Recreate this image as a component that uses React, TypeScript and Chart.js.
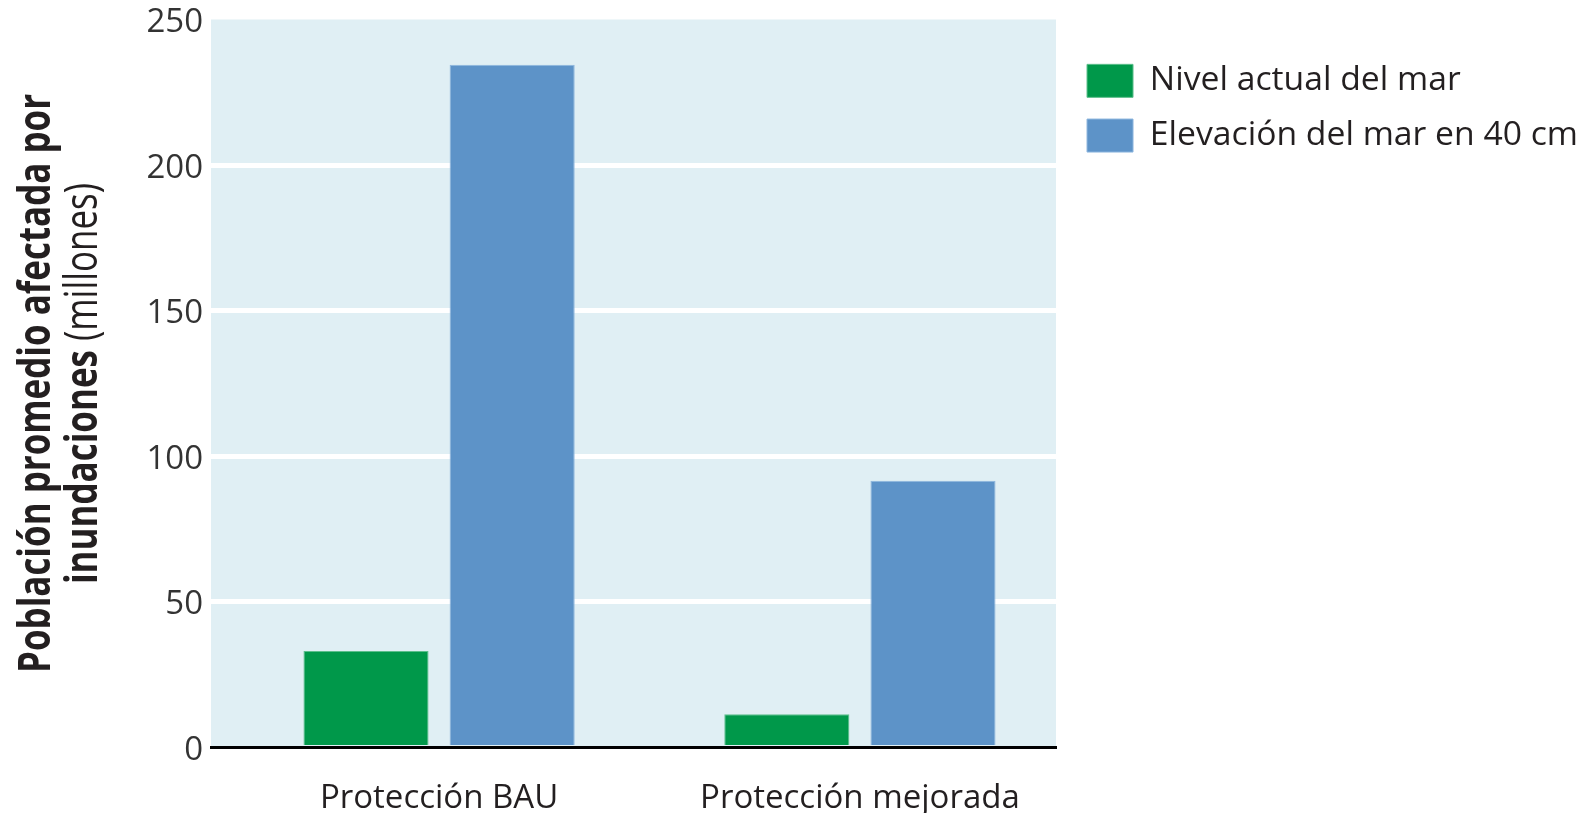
import React, { useEffect, useRef } from 'react';
import { Chart, registerables } from 'chart.js';

Chart.register(...registerables);

// ---- data ----
const categories = ['Protección BAU', 'Protección mejorada'];
const seriesLabels = ['Nivel actual del mar', 'Elevación del mar en 40 cm'];
const nivelActual = [33.1, 11.4];
const elevacion40 = [234.5, 91.6];
const yTickStep = 50;
const yMin = 0;
const yMax = 250;
const yTitleLine1 = 'Población promedio afectada por';
const yTitleLine2Bold = 'inundaciones';
const yTitleLine2Regular = ' (millones)';

// ---- styles ----
const COLORS = {
  green: '#00984a',
  greenBorder: '#5cbf8c',
  blue: '#5d93c8',
  blueBorder: '#8db6de',
  bg: '#e0eff4',
  text: '#231f20',
  tick: '#333333',
};

const bgPlugin = {
  id: 'plotBg',
  beforeDraw(chart: any) {
    const { ctx, chartArea: a } = chart;
    ctx.save();
    ctx.fillStyle = COLORS.bg;
    ctx.fillRect(a.left, a.top, a.right - a.left, a.bottom - a.top);
    ctx.restore();
  },
};

const yTitlePlugin = {
  id: 'yTitle',
  afterDraw(chart: any) {
    const { ctx, chartArea: a } = chart;
    const yc = (a.top + a.bottom) / 2;
    const size = 45;
    const boldFont = `bold ${size}px "Open Sans"`;
    const regFont = `${size}px "Open Sans"`;
    const targetWidth = 579;
    ctx.save();
    ctx.fillStyle = COLORS.text;
    ctx.font = boldFont;
    const w1 = ctx.measureText(yTitleLine1).width;
    const sx = targetWidth / w1;

    ctx.save();
    ctx.translate(50, yc);
    ctx.rotate(-Math.PI / 2);
    ctx.scale(sx, 1);
    ctx.textAlign = 'center';
    ctx.textBaseline = 'alphabetic';
    ctx.fillText(yTitleLine1, 0, 0);
    ctx.restore();

    ctx.font = boldFont;
    const wb = ctx.measureText(yTitleLine2Bold).width;
    ctx.font = regFont;
    const wr = ctx.measureText(yTitleLine2Regular).width;
    const total = wb + wr;
    ctx.save();
    ctx.translate(97, yc);
    ctx.rotate(-Math.PI / 2);
    ctx.scale(sx, 1);
    ctx.textAlign = 'left';
    ctx.textBaseline = 'alphabetic';
    ctx.font = boldFont;
    ctx.fillText(yTitleLine2Bold, -total / 2, 0);
    ctx.font = regFont;
    ctx.fillText(yTitleLine2Regular, -total / 2 + wb, 0);
    ctx.restore();

    ctx.restore();
  },
};

export default function App() {
  const ref = useRef<HTMLCanvasElement>(null);

  useEffect(() => {
    const canvas = ref.current;
    if (!canvas) return;
    const chart = new Chart(canvas, {
      type: 'bar',
      data: {
        datasets: [
          {
            label: seriesLabels[0],
            data: nivelActual.map((v, i) => ({ x: i, y: v })),
            backgroundColor: COLORS.green,
            borderColor: COLORS.greenBorder,
            borderWidth: 1,
            yAxisID: 'y',
            xAxisID: 'x',
          },
          {
            label: seriesLabels[1],
            data: elevacion40.map((v, i) => ({ x: i, y: v })),
            backgroundColor: COLORS.blue,
            borderColor: COLORS.blueBorder,
            borderWidth: 1,
            yAxisID: 'y',
            xAxisID: 'x',
          },
        ],
      },
      options: {
        responsive: false,
        animation: false,
        events: [],
        categoryPercentage: 0.6946,
        barPercentage: 0.856,
        layout: { padding: { top: 19.5, left: 0, right: 0, bottom: 0 } },
        scales: {
          x: {
            type: 'linear',
            offset: false,
            min: -0.542,
            max: 1.466,
            afterBuildTicks: (s: any) => {
              s.ticks = categories.map((_, i) => ({ value: i }));
            },
            afterFit: (s: any) => {
              s.height = 65.5;
            },
            grid: { display: false, offset: false },
            border: { display: true, color: '#000000', width: 3, z: 1 },
            ticks: {
              autoSkip: false,
              maxRotation: 0,
              padding: 23,
              color: COLORS.text,
              font: { family: '"Open Sans"', size: 33 },
              callback: (v: any) => categories[v] ?? '',
            },
          },
          y: {
            type: 'linear',
            position: 'left',
            min: yMin,
            max: yMax,
            afterFit: (s: any) => {
              s.width = 211;
            },
            grid: {
              color: (c: any) =>
                c.tick && (c.tick.value === yMin || c.tick.value === yMax) ? 'rgba(0,0,0,0)' : '#ffffff',
              lineWidth: 5,
              drawTicks: false,
            },
            border: { display: false },
            ticks: {
              stepSize: yTickStep,
              padding: 8,
              labelOffset: 3,
              color: COLORS.tick,
              font: { family: '"Open Sans"', size: 33, lineHeight: 0.6 },
            },
          },
          y2: {
            type: 'linear',
            position: 'right',
            display: true,
            afterFit: (s: any) => {
              s.width = 10;
            },
            grid: { display: false },
            border: { display: false },
            ticks: { display: false },
          },
        },
        plugins: {
          tooltip: { enabled: false },
          title: { display: false },
          legend: {
            position: 'right',
            align: 'start',
            fullSize: false,
            maxWidth: 700,
            title: { display: true, text: '', padding: { top: 13.5, bottom: 0 }, font: { size: 10, lineHeight: 1 } },
            labels: {
              boxWidth: 46,
              boxHeight: 33,
              padding: 21,
              color: COLORS.text,
              font: { family: '"Open Sans"', size: 33.7 },
            },
          },
        },
      } as any,
      plugins: [bgPlugin, yTitlePlugin],
    });
    return () => chart.destroy();
  }, []);

  return (
    <div style={{ position: 'absolute', left: 0, top: 0, width: 1588, height: 813 }}>
      <canvas ref={ref} width={1588} height={813} style={{ display: 'block' }} />
    </div>
  );
}
